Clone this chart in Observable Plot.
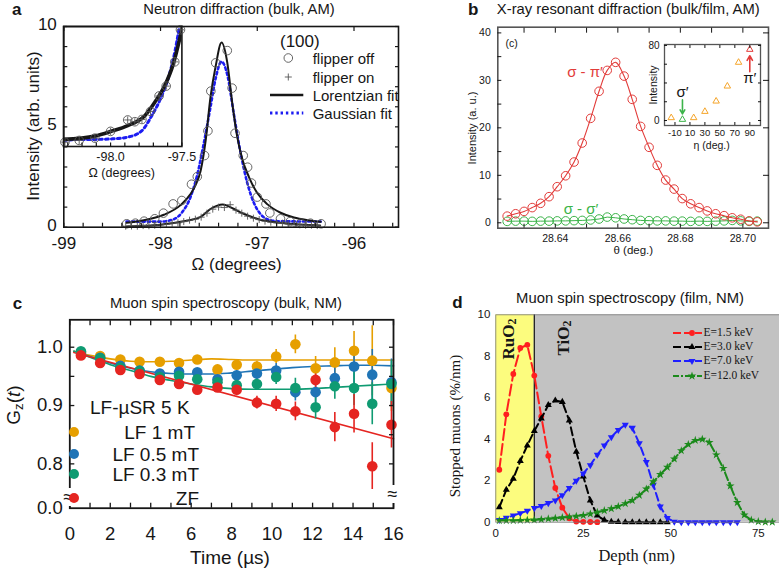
<!DOCTYPE html>
<html lang="en">
<head>
<meta charset="utf-8">
<title>Probes of magnetic order in RuO2</title>
<script src="https://cdn.jsdelivr.net/npm/d3@7"></script>
<script src="https://cdn.jsdelivr.net/npm/@observablehq/plot@0.6"></script>
<style>
  html, body { margin: 0; padding: 0; background: #fff; }
  #fig { position: relative; width: 779px; height: 570px; overflow: hidden; background: #fff; }
  #fig svg { overflow: visible; }
  #fig sub { font-size: 0.7em; vertical-align: -0.25em; line-height: 0; }
</style>
</head>
<body>
<div id="fig"></div>
<script>
// ---------- shared styling ----------
const SANS = "'Liberation Sans', Arial, Helvetica, sans-serif";
const SERIF = "'Liberation Serif', 'Times New Roman', Times, serif";
const INK = "#161616";
const clearStyle = {background: "transparent", fontFamily: SANS, color: INK, overflow: "visible"};

// ---------- (a) neutron diffraction, (100) reflection ----------
const offOmega = [-98.35, -98.26, -98.17, -98.06, -97.97, -97.87, -97.78, -97.68, -97.62, -97.545, -97.51, -97.48, -97.43, -97.31, -97.26, -97.23, -97.145, -97.10, -97.06, -97.00, -96.91, -96.87, -96.76, -96.66, -96.55, -96.45, -96.34];
const offIntensity = [0.17, 0.20, 0.30, 0.42, 0.70, 1.16, 1.33, 2.14, 2.52, 3.57, 4.80, 6.78, 8.19, 8.80, 6.93, 4.68, 3.57, 2.99, 2.20, 1.50, 1.16, 0.71, 0.42, 0.28, 0.20, 0.20, 0.17];
const onOmega = [-98.36, -98.30, -98.24, -98.18, -98.12, -98.06, -98.00, -97.94, -97.88, -97.82, -97.76, -97.70, -97.64, -97.58, -97.52, -97.46, -97.40, -97.34, -97.28, -97.22, -97.16, -97.10, -97.04, -96.98, -96.92, -96.86, -96.80, -96.74, -96.68, -96.62, -96.56, -96.50, -96.44, -96.38];
const onIntensity = [0.05, 0.06, 0.05, 0.08, 0.07, 0.10, 0.12, 0.14, 0.20, 0.22, 0.28, 0.35, 0.40, 0.50, 0.70, 0.90, 1.00, 0.98, 1.12, 0.85, 0.70, 0.55, 0.45, 0.38, 0.30, 0.25, 0.22, 0.20, 0.16, 0.14, 0.12, 0.10, 0.10, 0.08];
const lorOffOmega = [-98.352, -98.172, -97.966, -97.793, -97.690, -97.638, -97.586, -97.534, -97.483, -97.431, -97.369, -97.310, -97.259, -97.207, -97.155, -97.086, -97.000, -96.897, -96.759, -96.621, -96.483, -96.345];
const lorOffIntensity = [0.22, 0.35, 0.62, 1.10, 1.65, 2.10, 2.80, 4.30, 6.50, 8.00, 9.20, 8.20, 6.20, 4.50, 3.40, 2.50, 1.70, 1.15, 0.72, 0.48, 0.35, 0.27];
const gaussOmega = [-98.352, -98.000, -97.862, -97.776, -97.690, -97.621, -97.552, -97.483, -97.431, -97.369, -97.310, -97.241, -97.172, -97.103, -97.034, -96.966, -96.897, -96.793, -96.345];
const gaussIntensity = [0.28, 0.28, 0.40, 0.75, 1.50, 2.60, 4.20, 6.00, 7.40, 8.25, 7.60, 5.60, 3.70, 2.20, 1.20, 0.65, 0.40, 0.30, 0.28];
const lorOnOmega = [-98.35, -98.10, -97.93, -97.76, -97.59, -97.48, -97.42, -97.36, -97.30, -97.245, -97.14, -96.97, -96.72, -96.50, -96.35];
const lorOnIntensity = [0.04, 0.08, 0.17, 0.30, 0.50, 0.92, 1.06, 1.13, 1.05, 0.92, 0.67, 0.37, 0.20, 0.12, 0.09];
// inset: low-intensity tail of the reflection
const tailOmega = [-98.32, -98.22, -98.11, -98.00, -97.88, -97.83, -97.78, -97.72, -97.66, -97.61, -97.55, -97.51];
const tailIntensity = [0.17, 0.24, 0.33, 0.60, 1.05, 0.98, 1.07, 1.39, 2.00, 2.39, 3.35, 4.62];
const tailLorOmega = [-98.33, -98.11, -97.995, -97.88, -97.76, -97.69, -97.62, -97.56, -97.50];
const tailLorIntensity = [0.28, 0.41, 0.60, 0.83, 1.22, 1.75, 2.41, 3.27, 4.65];
const tailGaussOmega = [-98.33, -98.21, -98.11, -97.995, -97.88, -97.78, -97.71, -97.65, -97.59, -97.55, -97.52];
const tailGaussIntensity = [0.24, 0.28, 0.28, 0.30, 0.37, 0.63, 1.23, 1.89, 2.81, 3.73, 4.65];
const omegaTicks = [-99, -98, -97, -96];
const intensityTicks = [0, 5, 10];
const tailTicks = [-98.0, -97.5];
const legendA = ["flipper off", "flipper on", "Lorentzian fit", "Gaussian fit"];

// ---------- (b) resonant x-ray diffraction ----------
const theta = [28.6246, 28.6273, 28.6300, 28.6326, 28.6353, 28.6380, 28.6406, 28.6433, 28.6460, 28.6486, 28.6513, 28.6540, 28.6566, 28.6593, 28.6620, 28.6646, 28.6673, 28.6700, 28.6726, 28.6753, 28.6780, 28.6806, 28.6833, 28.6860, 28.6886, 28.6913, 28.6940, 28.6966, 28.6993, 28.7020, 28.7046];
const sigmaPi = [1.4, 1.9, 2.4, 3.2, 4.1, 5.5, 7.6, 9.9, 12.8, 16.8, 22.0, 27.7, 32.1, 33.8, 30.9, 26.0, 20.3, 15.9, 12.1, 9.0, 7.1, 5.1, 4.0, 3.2, 2.5, 1.9, 1.5, 1.05, 0.75, 0.4, 0.2];
const sigmaSigma = [0.3, 0.35, 0.35, 0.3, 0.35, 0.35, 0.4, 0.4, 0.45, 0.5, 0.6, 0.8, 1.2, 1.05, 0.8, 0.65, 0.5, 0.45, 0.4, 0.4, 0.35, 0.35, 0.3, 0.35, 0.3, 0.35, 0.4, 0.5, 0.4, 0.3, 0.35];
const thetaTicks = [28.64, 28.66, 28.68, 28.70];
const bIntensityTicks = [0, 10, 20, 30, 40];
// inset: azimuthal dependence
const eta = [-15, 0, 15, 30, 45, 60, 75, 90];
const etaIntensity = [2.9, 1.1, 2.9, 9.6, 20.6, 36.6, 61.9, 75.7];
const etaChannel = ["mixed", "σ′", "mixed", "mixed", "mixed", "mixed", "mixed", "π′"];
const etaTicks = [-10, 10, 30, 50, 70, 90];
const etaIntensityTicks = [0, 80];

// ---------- (c) bulk muon spin relaxation ----------
const muTime = [0.55, 1.5, 2.5, 3.45, 4.45, 5.4, 6.3, 7.3, 8.25, 9.25, 10.2, 11.15, 12.15, 13.1, 14.05, 14.95, 15.9];
const lf1 = [0.991, 0.985, 0.979, 0.975, 0.975, 0.973, 0.979, 0.962, 0.970, 0.967, 0.984, 1.005, 0.964, 0.974, 0.994, 0.977, 0.930];
const lf1Err = [0.004, 0.004, 0.004, 0.005, 0.005, 0.005, 0.006, 0.007, 0.008, 0.009, 0.012, 0.016, 0.020, 0.025, 0.033, 0.060, 0.040];
const lf05 = [0.990, 0.982, 0.968, 0.960, 0.955, 0.958, 0.957, 0.945, 0.952, 0.955, 0.960, 0.923, 0.923, 0.947, 0.967, 0.953, 0.940];
const lf05Err = [0.004, 0.004, 0.004, 0.005, 0.005, 0.006, 0.006, 0.007, 0.009, 0.010, 0.012, 0.015, 0.018, 0.022, 0.032, 0.043, 0.040];
const lf03 = [0.993, 0.981, 0.965, 0.959, 0.949, 0.951, 0.945, 0.940, 0.935, 0.937, 0.949, 0.930, 0.897, 0.933, 0.930, 0.903, 0.937];
const lf03Err = [0.004, 0.004, 0.005, 0.005, 0.006, 0.006, 0.007, 0.008, 0.010, 0.011, 0.013, 0.017, 0.020, 0.022, 0.030, 0.036, 0.040];
const zf = [0.986, 0.973, 0.961, 0.954, 0.944, 0.937, 0.927, 0.931, 0.927, 0.905, 0.903, 0.890, 0.944, 0.863, 0.886, 0.796, 0.867];
const zfErr = [0.004, 0.004, 0.005, 0.005, 0.006, 0.006, 0.007, 0.008, 0.010, 0.011, 0.013, 0.016, 0.017, 0.025, 0.033, 0.040, 0.040];
const fitTime = [0.2, 1, 2, 3, 4, 5, 6, 7, 8, 9, 10, 11, 12, 13, 14, 15, 16];
const lf1Fit = [0.993, 0.986, 0.980, 0.976, 0.975, 0.976, 0.978, 0.980, 0.979, 0.978, 0.978, 0.978, 0.978, 0.978, 0.978, 0.978, 0.978];
const lf05Fit = [0.993, 0.984, 0.973, 0.964, 0.958, 0.955, 0.954, 0.954, 0.956, 0.959, 0.962, 0.965, 0.967, 0.968, 0.969, 0.969, 0.968];
const lf03Fit = [0.993, 0.983, 0.970, 0.960, 0.950, 0.943, 0.937, 0.932, 0.929, 0.928, 0.928, 0.928, 0.929, 0.931, 0.933, 0.935, 0.937];
const zfFitTime = [0.2, 16];
const zfFit = [0.991, 0.843];
const muSeries = ["LF 1 mT", "LF 0.5 mT", "LF 0.3 mT", "ZF"];
const muColors = ["#e69f00", "#1f74b6", "#0f9b72", "#e52521"];
const timeTicks = [0, 2, 4, 6, 8, 10, 12, 14, 16];
const gBreak = 0.724;              // lower edge of the broken axis, labelled 0.0
const gTicks = [gBreak, 0.8, 0.9, 1.0];

// ---------- (d) low-energy muon stopping profiles ----------
const depthRed = [1, 3, 5, 7, 9, 11, 13, 15, 17, 19, 21, 23, 25, 27, 29];
const stopRed = [2.53, 5.2, 7.15, 8.4, 8.55, 7.07, 5.1, 3.2, 1.65, 0.7, 0.19, 0.03, 0.02, 0.01, 0.0];
const depthBlack = [1, 3, 5, 7, 9, 11, 13, 15, 17, 19, 21, 23, 25, 27, 29, 31, 33, 35, 37, 39, 41, 43, 45, 47, 49];
const stopBlack = [0.72, 1.56, 2.1, 2.95, 3.7, 4.4, 5.0, 5.65, 5.87, 5.8, 4.9, 3.4, 2.2, 1.05, 0.32, 0.1, 0.02, 0.01, 0, 0, 0, 0, 0, 0, 0];
const depthBlue = [1, 3, 5, 7, 9, 11, 13, 15, 17, 19, 21, 23, 25, 27, 29, 31, 33, 35, 37, 39, 41, 43, 45, 47, 49, 51, 53, 55, 57, 59, 61, 63, 65, 67, 69];
const stopBlue = [0.11, 0.21, 0.32, 0.43, 0.55, 0.68, 0.78, 0.92, 1.05, 1.3, 1.65, 2.0, 2.35, 2.75, 3.25, 3.7, 4.1, 4.45, 4.7, 4.55, 3.8, 2.9, 1.8, 0.75, 0.2, 0.02, 0, 0, 0, 0, 0, 0, 0, 0, 0];
const depthGreen = [1, 3, 5, 7, 9, 11, 13, 15, 17, 19, 21, 23, 25, 27, 29, 31, 33, 35, 37, 39, 41, 43, 45, 47, 49, 51, 53, 55, 57, 59, 61, 63, 65, 67, 69, 71, 73, 75, 77, 79];
const stopGreen = [0.08, 0.08, 0.08, 0.09, 0.1, 0.11, 0.13, 0.16, 0.19, 0.22, 0.25, 0.29, 0.33, 0.4, 0.48, 0.56, 0.65, 0.76, 0.9, 1.05, 1.3, 1.6, 1.95, 2.3, 2.65, 3.05, 3.45, 3.75, 3.95, 4.0, 3.85, 3.25, 2.6, 1.75, 0.95, 0.35, 0.1, 0.03, 0.01, 0.01];
const energies = ["E=1.5 keV", "E=3.0 keV", "E=7.0 keV", "E=12.0 keV"];
const layerNames = ["RuO<sub>2</sub>", "TiO<sub>2</sub>"];
const layerFrom = [0, 11];
const layerTo = [11, 90];
const depthTicks = [0, 25, 50, 75];
const stopTicks = [0, 2, 4, 6, 8, 10];

// ---------- helpers ----------
const fig = document.getElementById("fig");
const pts = (xs, ys) => xs.map((x, i) => ({x, y: ys[i]}));
const blank = () => "";

function mount(svg, left, top) {
  const d = document.createElement("div");
  d.style.cssText = `position:absolute;left:${left}px;top:${top}px;`;
  d.appendChild(svg);
  fig.appendChild(d);
}
function label(html, x, y, o = {}) {
  const d = document.createElement("div");
  d.innerHTML = html;
  const tx = o.anchor === "start" ? "0" : o.anchor === "end" ? "-100%" : "-50%";
  d.style.cssText = `position:absolute;left:${x}px;top:${y}px;white-space:nowrap;line-height:1;` +
    `font-family:${o.family || SANS};font-size:${o.size || 15}px;font-weight:${o.weight || "normal"};` +
    `color:${o.color || INK};transform:translate(${tx},-50%)${o.rotate ? " rotate(-90deg)" : ""};${o.css || ""}`;
  fig.appendChild(d);
}
function swatch(left, top, w, h, draw) {
  const svg = d3.create("svg").attr("width", w).attr("height", h)
    .style("position", "absolute").style("left", left + "px").style("top", top + "px").style("overflow", "visible");
  draw(svg);
  fig.appendChild(svg.node());
}
// tick marks pulled back across the frame edge so they point inward
const ticksX = (values, size, anchor = "bottom", strokeWidth = 1) =>
  Plot.axisX({ticks: values, anchor, tickSize: size, dy: anchor === "bottom" ? -size : size, tickFormat: blank, label: null, strokeWidth});
const ticksY = (values, size, anchor = "left", strokeWidth = 1) =>
  Plot.axisY({ticks: values, anchor, tickSize: size, dx: anchor === "left" ? size : -size, tickFormat: blank, label: null, strokeWidth});
const labelsX = (values, format, fontSize, tickPadding, fontFamily = SANS) =>
  Plot.axisX({ticks: values, tickSize: 0, tickPadding, tickFormat: format, fontSize, fontFamily, label: null});
const labelsY = (values, format, fontSize, tickPadding, fontFamily = SANS, dy = 0) =>
  Plot.axisY({ticks: values, tickSize: 0, tickPadding, tickFormat: format, fontSize, fontFamily, label: null, dy});

// =====================================================================
// (a) Neutron diffraction
// =====================================================================
const BLUE_A = "#1c1cf2";
const aBox = {width: 400, height: 280, marginLeft: 63.3, marginRight: 2, marginTop: 26, marginBottom: 53.3};
const aX = [-99, -95.54], aY = [0, 10];

mount(Plot.plot({
  ...aBox, style: clearStyle,
  x: {domain: aX, axis: null}, y: {domain: aY, axis: null},
  marks: [
    Plot.line(pts(gaussOmega, gaussIntensity), {x: "x", y: "y", stroke: BLUE_A, strokeWidth: 2.6, strokeDasharray: "2.4 2.9", curve: "monotone-x"}),
    Plot.line(pts(lorOffOmega, lorOffIntensity), {x: "x", y: "y", stroke: INK, strokeWidth: 2, curve: "monotone-x"}),
    Plot.line(pts(lorOnOmega, lorOnIntensity), {x: "x", y: "y", stroke: INK, strokeWidth: 2, curve: "monotone-x"}),
    Plot.dot(pts(offOmega, offIntensity), {x: "x", y: "y", r: 4.3, stroke: "#555", strokeWidth: 0.9}),
    Plot.dot(pts(onOmega, onIntensity), {x: "x", y: "y", symbol: "plus", r: 2.4, stroke: "#555", strokeWidth: 0.9})
  ]
}), 0, 0);

// inset: tail of the peak
mount(Plot.plot({
  width: 138.4, height: 170, marginLeft: 10, marginRight: 10, marginTop: 10, marginBottom: 40,
  style: clearStyle,
  x: {domain: [-98.33, -97.5]}, y: {domain: [0, 4.75], axis: null},
  marks: [
    Plot.frame({fill: "white", stroke: INK, strokeWidth: 1.6}),
    Plot.line(pts(tailGaussOmega, tailGaussIntensity), {x: "x", y: "y", stroke: BLUE_A, strokeWidth: 3, strokeDasharray: "2.8 3.2", curve: "monotone-x", clip: true}),
    Plot.line(pts(tailLorOmega, tailLorIntensity), {x: "x", y: "y", stroke: INK, strokeWidth: 3.6, curve: "monotone-x", clip: true}),
    Plot.dot(pts(tailOmega, tailIntensity), {x: "x", y: "y", r: 4.3, stroke: "#555", strokeWidth: 0.9}),
    Plot.dot(pts(tailOmega, tailIntensity), {x: "x", y: "y", symbol: "plus", r: 2.4, stroke: "#555", strokeWidth: 0.9}),
    labelsX(tailTicks, d => d.toFixed(1), 12.5, 6),
    ticksX(d3.range(-98.3, -97.49, 0.1), 3.5, "bottom", 1.2)
  ]
}), 53.3, 16);

// axes of the main plot on top of the inset
mount(Plot.plot({
  ...aBox, style: clearStyle,
  x: {domain: aX}, y: {domain: aY},
  marks: [
    Plot.frame({stroke: INK, strokeWidth: 1.6}),
    labelsX(omegaTicks, d => String(d), 17, 9.5),
    ticksX(d3.range(-99, -95.55, 0.2), 4, "bottom", 1.2),
    ticksX(omegaTicks, 4, "top", 1.2),
    labelsY(intensityTicks, d => String(d), 17, 7, SANS, -2),
    ticksY(d3.range(0, 10.01, 1), 4, "left", 1.2),
    ticksY(d3.range(0, 10.01, 1), 4, "right", 1.2)
  ]
}), 0, 0);

label("<b>a</b>", 16.7, 8.5, {size: 17});
label("Neutron diffraction (bulk, AM)", 239, 8.5, {size: 14.8});
label("Intensity (arb. units)", 33.3, 126, {size: 17, rotate: true});
label("Ω (degrees)", 236.7, 264, {size: 17});
label("Ω (degrees)", 121.7, 173.3, {size: 12.5});
label("(100)", 280, 40.5, {size: 17, anchor: "start"});
const legendARows = [58.3, 76.7, 95, 113.3];
legendA.forEach((name, i) => {
  label(name, 312.7, legendARows[i], {size: 15, anchor: "start"});
  swatch(268, legendARows[i] - 6, 38, 12, svg => {
    if (i === 0) svg.append("circle").attr("cx", 20.3).attr("cy", 6).attr("r", 4.3).attr("fill", "none").attr("stroke", "#555").attr("stroke-width", 0.9);
    if (i === 1) svg.append("path").attr("d", "M16.8,6H23.8M20.3,2.5V9.5").attr("stroke", "#555").attr("stroke-width", 0.9);
    if (i === 2) svg.append("line").attr("x1", 2).attr("x2", 35.3).attr("y1", 6).attr("y2", 6).attr("stroke", INK).attr("stroke-width", 2.4);
    if (i === 3) svg.append("line").attr("x1", 2).attr("x2", 35.3).attr("y1", 6).attr("y2", 6).attr("stroke", BLUE_A).attr("stroke-width", 2.8).attr("stroke-dasharray", "2.4 2.9");
  });
});

// =====================================================================
// (b) X-ray resonant diffraction
// =====================================================================
const RED_B = "#e23c3a", GREEN_B = "#3cb44a", ORANGE_B = "#f5a52a";
mount(Plot.plot({
  width: 339, height: 280, marginLeft: 57.3, marginRight: 11, marginTop: 26.7, marginBottom: 52.3,
  style: clearStyle,
  x: {domain: [28.6216, 28.7082]}, y: {domain: [-1.14, 41.2]},
  marks: [
    Plot.line(pts(theta, sigmaSigma), {x: "x", y: "y", stroke: GREEN_B, strokeWidth: 1}),
    Plot.dot(pts(theta, sigmaSigma), {x: "x", y: "y", r: 4.3, stroke: GREEN_B, strokeWidth: 1}),
    Plot.line(pts(theta, sigmaPi), {x: "x", y: "y", stroke: RED_B, strokeWidth: 1.1, curve: "catmull-rom"}),
    Plot.dot(pts(theta, sigmaPi), {x: "x", y: "y", r: 4.3, stroke: RED_B, strokeWidth: 1}),
    Plot.frame({stroke: "#555", strokeWidth: 1.6}),
    labelsX(thetaTicks, d => d.toFixed(2), 10.5, 6.5),
    ticksX(d3.range(28.63, 28.705, 0.01), 4, "bottom"),
    ticksX(d3.range(28.63, 28.705, 0.01), 5, "top"),
    labelsY(bIntensityTicks, d => String(d), 10.5, 7),
    ticksY(d3.range(0, 40.1, 5), 4, "left"),
    ticksY(bIntensityTicks, 6, "right")
  ]
}), 440, 0);

// inset: azimuthal scan
const etaRows = eta.map((e, i) => ({eta: e, intensity: etaIntensity[i], channel: etaChannel[i]}));
const channelColor = {"mixed": ORANGE_B, "σ′": GREEN_B, "π′": RED_B};
const etaNotes = [
  {eta: 0, from: 22, to: 7, at: 30, name: "σ′", color: GREEN_B},
  {eta: 90, from: 52, to: 69, at: 45, name: "π′", color: RED_B}
];
mount(Plot.plot({
  width: 140, height: 130, marginLeft: 34, marginRight: 10, marginTop: 10, marginBottom: 39,
  style: clearStyle,
  x: {domain: [-24, 104.3]}, y: {domain: [-5.3, 81]}, color: {type: "identity"},
  marks: [
    Plot.frame({fill: "white", stroke: "#555", strokeWidth: 1.3}),
    Plot.dot(etaRows, {x: "eta", y: "intensity", symbol: "triangle", r: 2.4, stroke: d => channelColor[d.channel], strokeWidth: 1}),
    Plot.arrow(etaNotes, {x1: "eta", x2: "eta", y1: "from", y2: "to", stroke: "color", strokeWidth: 1.6, headLength: 5}),
    Plot.text(etaNotes, {x: "eta", y: "at", text: "name", fill: INK, fontSize: 15}),
    labelsX(etaTicks, d => String(d), 9.5, 4),
    ticksX(etaTicks, 3, "bottom"),
    ticksX(etaTicks, 3, "top"),
    labelsY(etaIntensityTicks, d => String(d), 10, 5),
    ticksY([0, 20, 40, 60, 80], 3, "left"),
    ticksY([0, 20, 40, 60, 80], 3, "right")
  ]
}), 630, 34);

label("<b>b</b>", 473.3, 8.5, {size: 17});
label("X-ray resonant diffraction (bulk/film, AM)", 628.3, 8.5, {size: 14.8});
label("Intensity (a. u.)", 471.7, 127.5, {size: 11, rotate: true});
label("θ (deg.)", 633.3, 250.5, {size: 11.5});
label("(c)", 511.7, 43.3, {size: 10.5});
label("σ - π′", 585, 70.7, {size: 15, color: RED_B});
label("σ - σ′", 581, 208.3, {size: 15, color: GREEN_B});
label("Intensity", 653.3, 85, {size: 10.5, rotate: true});
label("η (deg.)", 711.7, 145, {size: 10.5});

// =====================================================================
// (c) Muon spin spectroscopy, bulk
// =====================================================================
const muValues = [lf1, lf05, lf03, zf], muErrors = [lf1Err, lf05Err, lf03Err, zfErr];
const muRows = muSeries.flatMap((s, k) => muTime.map((t, i) => ({series: s, t, g: muValues[k][i], err: muErrors[k][i]})));
const fitRows = [
  ...fitTime.map((t, i) => ({series: muSeries[0], t, g: lf1Fit[i]})),
  ...fitTime.map((t, i) => ({series: muSeries[1], t, g: lf05Fit[i]})),
  ...fitTime.map((t, i) => ({series: muSeries[2], t, g: lf03Fit[i]})),
  ...zfFitTime.map((t, i) => ({series: muSeries[3], t, g: zfFit[i]}))
];
mount(Plot.plot({
  width: 400, height: 285, marginLeft: 69.3, marginRight: 7, marginTop: 34.3, marginBottom: 62.3,
  style: clearStyle,
  x: {domain: [0, 16]}, y: {domain: [gBreak, 1.047]},
  color: {domain: muSeries, range: muColors},
  marks: [
    Plot.line(fitRows, {x: "t", y: "g", z: "series", stroke: "series", strokeWidth: 1.6, curve: "monotone-x"}),
    Plot.ruleX(muRows, {x: "t", y1: d => d.g - d.err, y2: d => d.g + d.err, stroke: "series", strokeWidth: 1.6, clip: true}),
    Plot.dot(muRows, {x: "t", y: "g", r: 5.3, fill: "series"}),
    Plot.frame({stroke: INK, strokeWidth: 1.8}),
    labelsX(timeTicks, d => String(d), 18.5, 19),
    ticksX(d3.range(0, 16.01, 1), 5, "bottom", 1.3),
    ticksX(d3.range(0, 16.01, 1), 5, "top", 1.3),
    labelsY(gTicks, d => d < 0.75 ? "0.0" : d.toFixed(1), 18.5, 7),
    ticksY([0.8, 0.85, 0.9, 0.95, 1.0], 5, "left", 1.3),
    ticksY([0.8, 0.85, 0.9, 0.95, 1.0], 5, "right", 1.3)
  ]
}), 0, 285);

label("<b>c</b>", 17.5, 303.3, {size: 17});
label("Muon spin spectroscopy (bulk, NM)", 226, 303.3, {size: 14.8});
label("G<sub>z</sub>(<i>t</i>)", 13.3, 405, {size: 19, rotate: true});
label("Time (µs)", 230, 556.7, {size: 19});
label("≈", 68.5, 496.5, {size: 18, css: "background:#fff;padding:0 1px;"});
label("≈", 392.5, 493.5, {size: 18, css: "background:#fff;padding:0 1px;"});
label("LF-µSR 5 K", 90, 406.7, {size: 19, anchor: "start"});
const legendCRows = [431.5, 453.5, 474, 497.5];
const legendCEnds = [195, 199, 199, 199];
muSeries.forEach((s, i) => {
  label(s, legendCEnds[i], legendCRows[i], {size: 19, anchor: "end"});
  swatch(68, legendCRows[i] - 6, 12, 12, svg => svg.append("circle").attr("cx", 6).attr("cy", 6).attr("r", 5).attr("fill", muColors[i]));
});

// =====================================================================
// (d) Muon stopping profiles in the film
// =====================================================================
const YELLOW_D = "#fcfc7e", GRAY_D = "#c2c2c2";
const energyColors = ["#ff1f1f", "#000000", "#1f1fff", "#1b8a1b"];
const energyDash = ["11 4", "8 4", "8 4", "8 3 2 3"];
const triangleDown = {
  draw(context, size) {
    const y = -Math.sqrt(size / (Math.sqrt(3) * 3));
    context.moveTo(0, -y * 2);
    context.lineTo(-Math.sqrt(3) * y, y);
    context.lineTo(Math.sqrt(3) * y, y);
    context.closePath();
  }
};
const energySymbols = ["circle", "triangle", triangleDown, "star"];
const energyR = [2.9, 2.6, 2.6, 2.7];
const profiles = [pts(depthRed, stopRed), pts(depthBlack, stopBlack), pts(depthBlue, stopBlue), pts(depthGreen, stopGreen)];
const layers = layerNames.map((n, i) => ({name: n, from: layerFrom[i], to: layerTo[i]}));
const yD = [0, 10];

mount(Plot.plot({
  width: 339, height: 285, marginLeft: 55.3, marginRight: 0, marginTop: 29.3, marginBottom: 48.3,
  style: clearStyle,
  x: {domain: [0, 81.06]}, y: {domain: yD},
  marks: [
    Plot.rect(layers.slice(0, 1), {x1: "from", x2: "to", y1: yD[0], y2: yD[1], fill: YELLOW_D}),
    Plot.rect(layers.slice(1), {x1: "from", x2: "to", y1: yD[0], y2: yD[1], fill: GRAY_D, clip: true}),
    Plot.ruleX(layers.slice(1), {x: "from", stroke: INK, strokeWidth: 1.2}),
    ...profiles.flatMap((rows, i) => [
      Plot.line(rows, {x: "x", y: "y", stroke: energyColors[i], strokeWidth: 2, strokeDasharray: energyDash[i]}),
      Plot.dot(rows, {x: "x", y: "y", symbol: energySymbols[i], r: energyR[i], fill: energyColors[i], stroke: "none"})
    ]),
    Plot.frame({stroke: "#777", strokeWidth: 0.8}),
    labelsX(depthTicks, d => String(d), 11.5, 6.5),
    labelsY(stopTicks, d => String(d), 11.5, 5.5)
  ]
}), 440, 285);

label("<b>d</b>", 457.5, 301.7, {size: 17});
label("Muon spin spectroscopy (film, NM)", 630, 298.3, {size: 14.8});
label("Stopped muons (%/nm)", 455, 426, {size: 15, family: SERIF, rotate: true});
label("Depth (nm)", 636.7, 556, {size: 16.5, family: SERIF});
label(layerNames[0], 508.3, 339, {size: 17, family: SERIF, weight: "bold", rotate: true});
label(layerNames[1], 563.3, 338, {size: 17, family: SERIF, weight: "bold", rotate: true});
const legendDRows = [332.7, 346.7, 361, 376];
energies.forEach((name, i) => {
  label(name, 703.5, legendDRows[i], {size: 11.5, family: SERIF, anchor: "start"});
  swatch(672, legendDRows[i] - 6, 31, 12, svg => {
    svg.append("line").attr("x1", 1).attr("x2", 30).attr("y1", 6).attr("y2", 6)
      .attr("stroke", energyColors[i]).attr("stroke-width", 2).attr("stroke-dasharray", i === 3 ? "6 2 2 2" : "8 3");
    const sym = typeof energySymbols[i] === "string"
      ? {circle: d3.symbolCircle, triangle: d3.symbolTriangle, star: d3.symbolStar}[energySymbols[i]]
      : energySymbols[i];
    svg.append("path").attr("transform", "translate(20,6)")
      .attr("d", d3.symbol(sym, Math.PI * energyR[i] * energyR[i])()).attr("fill", energyColors[i]);
  });
});
</script>
</body>
</html>
